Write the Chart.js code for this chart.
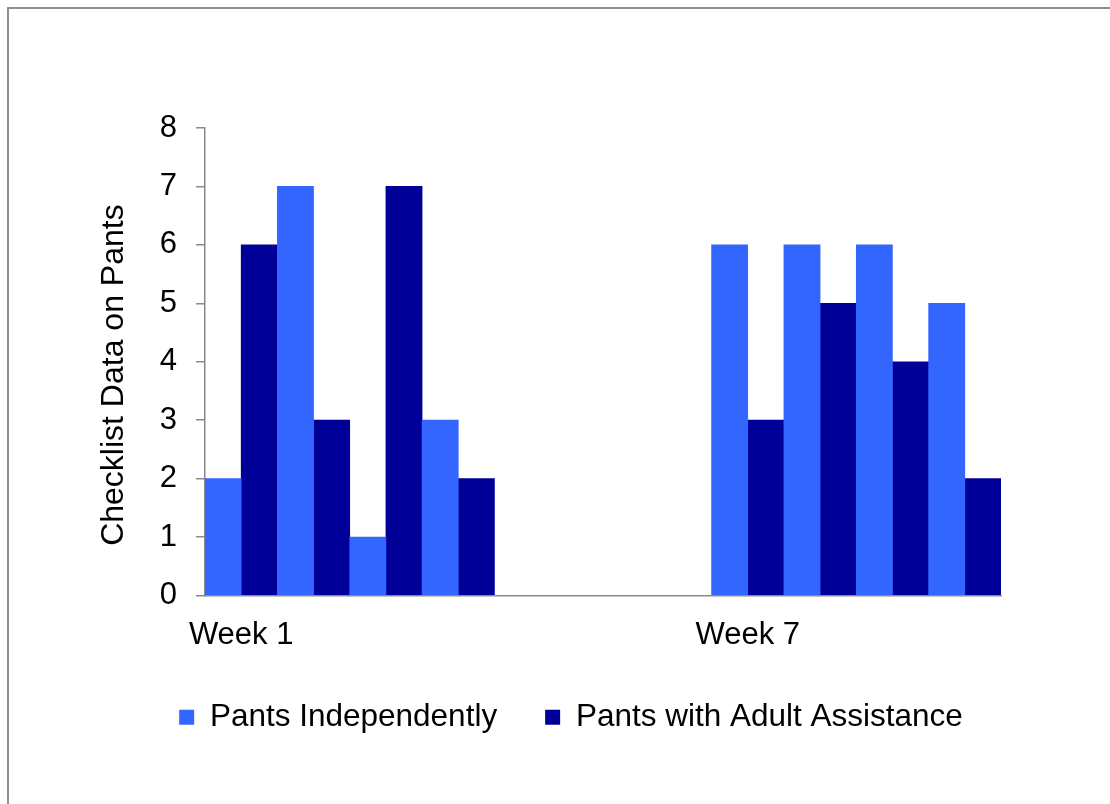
<!DOCTYPE html>
<html>
<head>
<meta charset="utf-8">
<script src="https://cdn.jsdelivr.net/npm/chart.js@4/dist/chart.umd.min.js"></script>
<style>
  html, body { margin: 0; padding: 0; background: #ffffff; }
  #wrap { position: relative; width: 1110px; height: 804px; }
</style>
</head>
<body>
<div id="wrap"><canvas id="c" width="1110" height="804"></canvas></div>
<script>
const categories = ["Week 1", "", "", "", "", "", "", "Week 7", "", "", ""];
const pantsIndependently = [2, 7, 1, 3, null, null, null, 6, 6, 6, 5];
const pantsWithAdult = [6, 3, 7, 2, null, null, null, 3, 5, 4, 2];
const yTicks = [0, 1, 2, 3, 4, 5, 6, 7, 8];
const seriesNames = ["Pants Independently", "Pants with Adult Assistance"];
const yTitle = "Checklist Data on Pants";

const FONT = "'Liberation Sans', Arial, sans-serif";
const AXIS = "#8a8a8a";

const framePlugin = {
  id: 'frame',
  beforeDraw(chart) {
    const ctx = chart.ctx;
    ctx.save();
    ctx.fillStyle = '#ffffff';
    ctx.fillRect(0, 0, chart.width, chart.height);
    ctx.strokeStyle = '#8f8f8f';
    ctx.lineWidth = 2;
    ctx.beginPath();
    ctx.moveTo(8, chart.height);
    ctx.lineTo(8, 8);
    ctx.lineTo(chart.width, 8);
    ctx.stroke();
    ctx.restore();
  }
};

new Chart(document.getElementById('c'), {
  type: 'bar',
  data: {
    labels: categories,
    datasets: [
      { label: seriesNames[0], data: pantsIndependently, backgroundColor: '#3366FF', borderWidth: 0,
        categoryPercentage: 1.0, barPercentage: 1.0 },
      { label: seriesNames[1], data: pantsWithAdult, backgroundColor: '#000099', borderWidth: 0,
        categoryPercentage: 1.0, barPercentage: 1.0 }
    ]
  },
  options: {
    responsive: false,
    animation: false,
    devicePixelRatio: 1,
    layout: { padding: { left: 91, right: 59, top: 128, bottom: 61 } },
    plugins: {
      legend: {
        display: true,
        position: 'bottom',
        labels: {
          boxWidth: 15, boxHeight: 15, padding: 48,
          color: '#000000',
          font: { family: FONT, size: 31.5 }
        }
      },
      tooltip: { enabled: false }
    },
    scales: {
      x: {
        type: 'category',
        afterFit(s) { s.height = 58; },
        grid: { display: false, drawTicks: false },
        border: { display: true, color: AXIS, width: 1.5 },
        ticks: { color: '#000000', font: { family: FONT, size: 31 }, padding: 21,
                 autoSkip: false, maxRotation: 0, minRotation: 0 }
      },
      y: {
        min: 0, max: 8,
        afterFit(s) { s.width = 114; },
        afterBuildTicks(s) { s.ticks = yTicks.map(v => ({ value: v })); },
        grid: { display: true, drawOnChartArea: false, drawTicks: true, tickLength: 9, color: AXIS, lineWidth: 1.5 },
        border: { display: true, color: AXIS, width: 1.5 },
        ticks: { color: '#000000', font: { family: FONT, size: 31 }, padding: 19, stepSize: 1 },
        title: { display: true, text: yTitle + '   ', color: '#000000', font: { family: FONT, size: 32 }, padding: { top: 4, bottom: 4 } }
      },
      y2: {
        position: 'right',
        display: true,
        afterFit(s) { s.width = 50; },
        grid: { display: false, drawTicks: false },
        border: { display: false },
        ticks: { display: false }
      }
    }
  },
  plugins: [framePlugin]
});
</script>
</body>
</html>
